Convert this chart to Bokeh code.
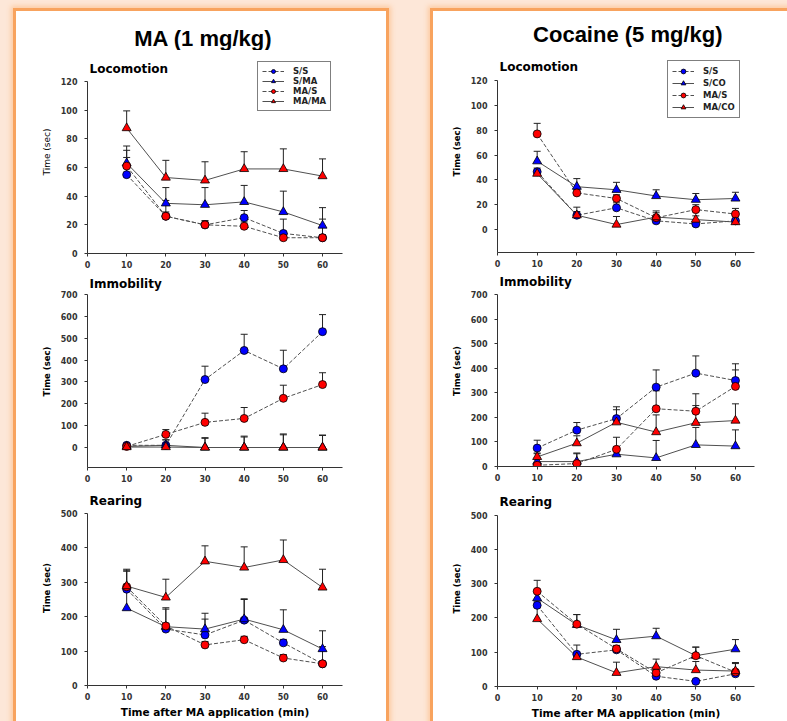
from bokeh.plotting import figure
from bokeh.models import (Range1d, FixedTicker, Legend, LegendItem, Whisker, TeeHead,
                          ColumnDataSource, Spacer, Label)
from bokeh.layouts import row, column
from bokeh.embed import file_html
from bokeh.resources import INLINE
from bokeh.core.properties import value

# ---------------- data ----------------
minutes = [10, 20, 30, 40, 50, 60]
x_ticks = [0, 10, 20, 30, 40, 50, 60]

ma_title = "MA (1 mg/kg)"
co_title = "Cocaine (5 mg/kg)"
ma_groups = ["S/S", "S/MA", "MA/S", "MA/MA"]
co_groups = ["S/S", "S/CO", "MA/S", "MA/CO"]
x_title = "Time after MA application (min)"
y_title = "Time (sec)"

loc_ticks = [0, 20, 40, 60, 80, 100, 120]
imm_ticks = [0, 100, 200, 300, 400, 500, 600, 700]
rear_ticks = [0, 100, 200, 300, 400, 500]

# MA (1 mg/kg) - Locomotion
ma_loc_ss = [55, 26, 20, 25, 14, 11]
ma_loc_ss_err = [12, 11, 3, 5, 10, 13]
ma_loc_sma = [63, 35, 34, 36, 29, 19.5]
ma_loc_sma_err = [12, 11, 12, 11.5, 14.5, 12.5]
ma_loc_mas = [61, 26, 20, 19, 11, 11]
ma_loc_mas_err = [11, 3, 2, 3, 2, 2]
ma_loc_mama = [87.5, 53, 51, 59, 59, 54]
ma_loc_mama_err = [12, 12, 13, 12, 14, 12]

# MA - Immobility
ma_imm_ss = [10, 10, 311, 444, 360, 530]
ma_imm_ss_err = [5, 25, 61, 74, 85, 78]
ma_imm_sma = [5, 10, 0, 0, 0, 0]
ma_imm_sma_err = [3, 25, 45, 52, 58, 57]
ma_imm_mas = [5, 60, 115, 133, 225, 288]
ma_imm_mas_err = [3, 22, 42, 50, 60, 54]
ma_imm_mama = [2, 2, 0, 0, 0, 0]
ma_imm_mama_err = [2, 3, 42, 48, 62, 55]

# MA - Rearing
ma_rear_ss = [280, 164, 147, 190, 124, 63]
ma_rear_ss_err = [52, 58, 46, 60, 10, 50]
ma_rear_sma = [225, 171, 164, 193, 162, 106]
ma_rear_sma_err = [53, 55, 46, 59, 58, 53]
ma_rear_mas = [287, 173, 118, 133, 80, 63]
ma_rear_mas_err = [48, 8, 10, 10, 10, 5]
ma_rear_mama = [289, 256, 361, 343, 365, 285]
ma_rear_mama_err = [49, 53, 45, 60, 58, 53]

# Cocaine (5 mg/kg) - Locomotion
co_loc_ss = [46.5, 11.5, 17.5, 7, 4.5, 7]
co_loc_ss_err = [3, 3, 4, 2, 2, 2]
co_loc_sco = [55, 34.5, 32, 27, 24, 25]
co_loc_sco_err = [8, 6.5, 6, 5, 5, 5]
co_loc_mas = [77, 29.5, 25, 9.5, 16, 12.5]
co_loc_mas_err = [8.5, 3, 3, 4, 4, 4.5]
co_loc_maco = [45, 11.5, 4, 10, 8, 6]
co_loc_maco_err = [2, 6.5, 6.5, 5, 3, 2]

# Cocaine - Immobility
co_imm_ss = [75, 148, 195, 323, 380, 350]
co_imm_ss_err = [32, 31, 48, 70, 70, 68]
co_imm_sco = [20, 20, 50, 35, 88, 83]
co_imm_sco_err = [32, 35, 30, 71, 71, 66]
co_imm_mas = [5, 12, 70, 235, 225, 326]
co_imm_mas_err = [10, 40, 49, 73, 71, 67]
co_imm_maco = [39, 95, 180, 140, 178, 187]
co_imm_maco_err = [16, 30, 51, 70, 70, 68]

# Cocaine - Rearing
co_rear_ss = [237, 94, 107, 30, 15, 37]
co_rear_ss_err = [10, 27, 8, 5, 5, 8]
co_rear_sco = [258, 180, 136, 147, 90, 109]
co_rear_sco_err = [25, 30, 31, 23, 25, 28]
co_rear_mas = [278, 182, 110, 40, 90, 42]
co_rear_mas_err = [32, 28, 10, 10, 25, 25]
co_rear_maco = [197, 86, 40, 58, 48, 45]
co_rear_maco_err = [35, 10, 31, 22, 25, 25]

# ---------------- styles ----------------
PEACH = "#fde7d8"
BLUE = "#0000ff"
RED = "#ff0000"
LINE = "#505050"
AX = "#333333"
FONT = "DejaVu Sans"
series_style = [
    dict(color=BLUE, marker="circle", dash="4 2", size=8),
    dict(color=BLUE, marker="triangle", dash="solid", size=9),
    dict(color=RED, marker="circle", dash="4 2", size=8),
    dict(color=RED, marker="triangle", dash="solid", size=9),
]


def title_fig(text, w, h, cx, cy):
    p = figure(width=w, height=h, x_range=Range1d(0, w), y_range=Range1d(0, h),
               output_backend="svg", toolbar_location=None, title=None,
               x_axis_location=None, y_axis_location=None,
               min_border=0, min_border_left=0, min_border_right=0,
               min_border_top=0, min_border_bottom=0, outline_line_color=None,
               background_fill_color="white", border_fill_color="white")
    p.grid.visible = False
    p.text(x=[cx], y=[cy], text=[text], text_font=value("Liberation Sans"),
           text_font_style="bold", text_font_size="22px", text_color="black",
           text_align="center", text_baseline="middle")
    return p


def sub_fig(name, groups, vals, errs, x_end, y_lo, top_tick, y_ticks, w,
            fig_top, fig_bottom, px_top_tick, px_axis, px_title,
            bl, br, ylab_bold=True, legend_pos=None, leg_lh=10,
            xlabel=None, ylab_size="8.5px"):
    h = fig_bottom - fig_top
    bb = fig_bottom - px_axis
    # extend the range upward so that the frame also holds the panel title and legend
    scale = (top_tick - y_lo) / (px_axis - px_top_tick)
    y_hi = top_tick + (px_top_tick - fig_top) * scale
    p = figure(width=w, height=h, x_range=Range1d(0, x_end), y_range=Range1d(y_lo, y_hi),
               output_backend="svg", toolbar_location=None, title=None,
               min_border_left=bl, min_border_right=br,
               min_border_top=0, min_border_bottom=bb,
               background_fill_color="white", border_fill_color="white",
               outline_line_color=None)
    p.grid.visible = False

    p.xaxis.ticker = FixedTicker(ticks=x_ticks)
    p.yaxis.ticker = FixedTicker(ticks=y_ticks)
    p.yaxis.bounds = (y_lo, top_tick)
    for ax in p.axis:
        ax.axis_line_color = AX
        ax.axis_line_width = 1
        ax.major_tick_line_color = AX
        ax.major_tick_out = 3
        ax.major_tick_in = 0
        ax.minor_tick_line_color = None
        ax.major_label_text_font = FONT
        ax.major_label_text_font_style = "bold"
        ax.major_label_text_font_size = "8px"
        ax.major_label_text_color = AX
    p.yaxis.major_label_standoff = 7
    p.xaxis.major_label_standoff = 4
    p.yaxis.axis_label = y_title
    p.yaxis.axis_label_text_font = FONT
    p.yaxis.axis_label_text_font_style = "bold" if ylab_bold else "normal"
    p.yaxis.axis_label_text_font_size = ylab_size
    p.yaxis.axis_label_text_color = "black"
    p.yaxis.axis_label_standoff = 6
    if xlabel:
        p.xaxis.axis_label = xlabel
        p.xaxis.axis_label_text_font = FONT
        p.xaxis.axis_label_text_font_style = "bold"
        p.xaxis.axis_label_text_font_size = "10.5px"
        p.xaxis.axis_label_text_color = "black"
        p.xaxis.axis_label_standoff = 3

    p.add_layout(Label(x=2, y=px_axis - px_title, x_units="screen", y_units="screen",
                       text=name, text_font=FONT, text_font_style="bold",
                       text_font_size="12px", text_color="black",
                       text_align="left", text_baseline="middle"))

    items = []
    lines = []
    for i, (v, e) in enumerate(zip(vals, errs)):
        st = series_style[i]
        src = ColumnDataSource(dict(x=minutes, y=v, top=[a + b for a, b in zip(v, e)]))
        lr = p.line("x", "y", source=src, line_color=LINE, line_width=1, line_dash=st["dash"])
        lines.append((lr, src, st))
    for lr, src, st in lines:
        p.add_layout(Whisker(source=src, base="x", lower="y", upper="top", dimension="height",
                             line_color="#222222", line_width=1, lower_head=None,
                             upper_head=TeeHead(size=7, line_color="#222222", line_width=1)))
    for (lr, src, st), g in zip(lines, groups):
        sr = p.scatter("x", "y", source=src, marker=st["marker"], size=st["size"],
                       fill_color=st["color"], line_color="black", line_width=0.8)
        items.append(LegendItem(label=g, renderers=[lr, sr]))
    if legend_pos is not None:
        leg = Legend(items=items, location=legend_pos, orientation="vertical",
                     border_line_color="black", border_line_width=1,
                     background_fill_color="white", background_fill_alpha=1,
                     label_text_font=FONT, label_text_font_style="bold",
                     label_text_font_size="8.5px", label_text_color="#222222",
                     glyph_width=22, glyph_height=leg_lh, label_height=leg_lh,
                     label_standoff=9, padding=4, spacing=0, margin=0)
        p.add_layout(leg)
    return p


LW, RW = 370, 354
shadow = {"background-color": "white",
          "box-shadow": "0 0 0 3px #f8a35e, 0 0 5px 5px #fccaa0"}

left = column(
    title_fig(ma_title, LW, 39, 168, 12),
    sub_fig("Locomotion", ma_groups,
            [ma_loc_ss, ma_loc_sma, ma_loc_mas, ma_loc_mama],
            [ma_loc_ss_err, ma_loc_sma_err, ma_loc_mas_err, ma_loc_mama_err],
            65.1, 0, 120, loc_ticks, LW, 50, 275, 81, 253, 68, 70, 44,
            ylab_bold=False, legend_pos=(170, 142), leg_lh=10, ylab_size="9px"),
    sub_fig("Immobility", ma_groups,
            [ma_imm_ss, ma_imm_sma, ma_imm_mas, ma_imm_mama],
            [ma_imm_ss_err, ma_imm_sma_err, ma_imm_mas_err, ma_imm_mama_err],
            65.1, -91.5, 700, imm_ticks, LW, 275, 490, 294, 467, 283, 71, 43),
    sub_fig("Rearing", ma_groups,
            [ma_rear_ss, ma_rear_sma, ma_rear_mas, ma_rear_mama],
            [ma_rear_ss_err, ma_rear_sma_err, ma_rear_mas_err, ma_rear_mama_err],
            65.1, 0, 500, rear_ticks, LW, 490, 721, 513, 685, 500, 71, 43,
            xlabel=x_title),
    styles=shadow,
)

right = column(
    title_fig(co_title, RW, 39, 179.5, 16),
    sub_fig("Locomotion", co_groups,
            [co_loc_ss, co_loc_sco, co_loc_mas, co_loc_maco],
            [co_loc_ss_err, co_loc_sco_err, co_loc_mas_err, co_loc_maco_err],
            64.8, -18.5, 120, loc_ticks, RW, 50, 275, 80, 252, 66, 64, 33,
            legend_pos=(170, 134), leg_lh=12),
    sub_fig("Immobility", co_groups,
            [co_imm_ss, co_imm_sco, co_imm_mas, co_imm_maco],
            [co_imm_ss_err, co_imm_sco_err, co_imm_mas_err, co_imm_maco_err],
            64.8, 0, 700, imm_ticks, RW, 275, 490, 294, 466, 281, 64, 33),
    sub_fig("Rearing", co_groups,
            [co_rear_ss, co_rear_sco, co_rear_mas, co_rear_maco],
            [co_rear_ss_err, co_rear_sco_err, co_rear_mas_err, co_rear_maco_err],
            64.8, 0, 500, rear_ticks, RW, 490, 721, 515, 688, 503, 64, 33,
            xlabel=x_title),
    styles=shadow,
)

page = row(
    Spacer(width=16, height=721),
    column(Spacer(width=LW, height=11), left),
    Spacer(width=47, height=721),
    column(Spacer(width=RW, height=11), right),
    styles={"background-color": PEACH},
)

p = page
open("out.html", "w").write(file_html(p, INLINE))
